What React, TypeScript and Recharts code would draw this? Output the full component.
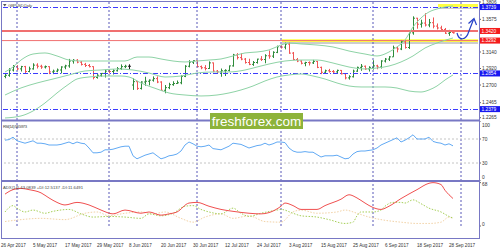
import React from 'react';
import { ComposedChart, Bar, Line, XAxis, YAxis, ReferenceLine, ReferenceArea } from 'recharts';

// GBPUSD daily, 26 Apr 2017 .. 29 Sep 2017, one entry per trading day (index 0..112)
const opens = [
  1.2815, 1.283, 1.29, 1.2945, 1.2915, 1.2945, 1.288, 1.2915, 1.2965, 1.295,
  1.294, 1.2945, 1.2875, 1.2885, 1.29, 1.294, 1.2955, 1.302, 1.303, 1.3005,
  1.2975, 1.296, 1.2945, 1.28, 1.283, 1.2855, 1.2885, 1.288, 1.289, 1.292,
  1.2945, 1.295, 1.27, 1.2745, 1.2655, 1.274, 1.275, 1.2765, 1.2785, 1.274,
  1.263, 1.2665, 1.2705, 1.272, 1.273, 1.2815, 1.295, 1.3005, 1.3025, 1.2945,
  1.293, 1.292, 1.2995, 1.2885, 1.2875, 1.289, 1.2895, 1.2955, 1.31, 1.3065,
  1.3045, 1.3, 1.2975, 1.3, 1.3045, 1.304, 1.309, 1.3085, 1.3135, 1.321,
  1.3205, 1.3245, 1.3125, 1.304, 1.302, 1.299, 1.3, 1.2995, 1.3015, 1.2935,
  1.287, 1.289, 1.288, 1.2875, 1.2895, 1.285, 1.2795, 1.281, 1.2885, 1.2935,
  1.295, 1.2915, 1.2935, 1.2955, 1.294, 1.302, 1.3045, 1.3075, 1.3195, 1.318,
  1.3275, 1.32, 1.3395, 1.359, 1.351, 1.3525, 1.35, 1.353, 1.3485, 1.346,
  1.344, 1.339, 1.34,
];
const highs = [
  1.2856, 1.2925, 1.2966, 1.2965, 1.2955, 1.2955, 1.2945, 1.299, 1.299, 1.297,
  1.296, 1.295, 1.2905, 1.292, 1.295, 1.297, 1.3048, 1.3045, 1.3045, 1.302,
  1.2995, 1.298, 1.295, 1.2845, 1.286, 1.2905, 1.2905, 1.291, 1.294, 1.2975,
  1.297, 1.2976, 1.279, 1.2755, 1.275, 1.281, 1.2775, 1.2815, 1.2815, 1.275,
  1.27, 1.273, 1.275, 1.276, 1.283, 1.2965, 1.303, 1.303, 1.303, 1.296,
  1.2965, 1.3015, 1.3, 1.29, 1.292, 1.291, 1.296, 1.3115, 1.3125, 1.3125,
  1.306, 1.305, 1.302, 1.305, 1.3085, 1.311, 1.316, 1.315, 1.3225, 1.323,
  1.3265, 1.3267, 1.314, 1.306, 1.303, 1.301, 1.3015, 1.3035, 1.302, 1.2945,
  1.2905, 1.2915, 1.29, 1.2905, 1.29, 1.2855, 1.283, 1.2905, 1.2945, 1.298,
  1.296, 1.295, 1.303, 1.297, 1.303, 1.306, 1.3085, 1.3225, 1.3215, 1.33,
  1.33, 1.341, 1.3615, 1.3595, 1.357, 1.3657, 1.358, 1.36, 1.352, 1.349,
  1.346, 1.3435, 1.3425,
];
const lows = [
  1.279, 1.281, 1.288, 1.2895, 1.288, 1.2855, 1.287, 1.2905, 1.292, 1.2915,
  1.292, 1.2845, 1.2845, 1.287, 1.2855, 1.291, 1.293, 1.2985, 1.299, 1.296,
  1.294, 1.2935, 1.2775, 1.2785, 1.281, 1.28, 1.2855, 1.284, 1.288, 1.29,
  1.2925, 1.291, 1.2635, 1.2635, 1.264, 1.269, 1.2695, 1.2745, 1.2725, 1.262,
  1.259, 1.2645, 1.269, 1.2715, 1.271, 1.2805, 1.2935, 1.298, 1.2935, 1.291,
  1.2895, 1.2915, 1.287, 1.285, 1.281, 1.282, 1.288, 1.2945, 1.304, 1.303,
  1.2985, 1.2965, 1.2955, 1.2985, 1.302, 1.299, 1.305, 1.306, 1.3125, 1.3185,
  1.3175, 1.3115, 1.303, 1.3005, 1.2975, 1.295, 1.296, 1.298, 1.2925, 1.2845,
  1.285, 1.2865, 1.286, 1.2855, 1.284, 1.2775, 1.2772, 1.28, 1.2875, 1.289,
  1.29, 1.288, 1.2905, 1.291, 1.292, 1.3, 1.302, 1.3075, 1.3135, 1.3165,
  1.3185, 1.318, 1.337, 1.345, 1.3465, 1.348, 1.347, 1.3455, 1.344, 1.341,
  1.338, 1.3355, 1.3385,
];
const closes = [
  1.283, 1.29, 1.2945, 1.2915, 1.2945, 1.288, 1.2915, 1.2965, 1.295, 1.294,
  1.2945, 1.2875, 1.2885, 1.29, 1.294, 1.2955, 1.302, 1.303, 1.3005, 1.2975,
  1.296, 1.2945, 1.28, 1.283, 1.2855, 1.2885, 1.288, 1.289, 1.292, 1.2945,
  1.295, 1.295, 1.2745, 1.2655, 1.274, 1.275, 1.2765, 1.2785, 1.274, 1.263,
  1.2665, 1.2705, 1.272, 1.273, 1.2815, 1.295, 1.3005, 1.3025, 1.2945, 1.293,
  1.292, 1.2995, 1.2885, 1.2875, 1.289, 1.2895, 1.2955, 1.31, 1.3065, 1.3045,
  1.3, 1.2975, 1.3, 1.3045, 1.304, 1.309, 1.3085, 1.3135, 1.321, 1.3205,
  1.3245, 1.3125, 1.304, 1.302, 1.299, 1.3, 1.2995, 1.3015, 1.2935, 1.287,
  1.289, 1.288, 1.2875, 1.2895, 1.285, 1.2795, 1.281, 1.2885, 1.2935, 1.295,
  1.2915, 1.2935, 1.2955, 1.294, 1.302, 1.3045, 1.3075, 1.3195, 1.318, 1.3275,
  1.32, 1.3395, 1.359, 1.351, 1.3525, 1.35, 1.353, 1.3485, 1.346, 1.344,
  1.339, 1.34, 1.3395,
];

// Bollinger bands, read at sample days
const upperIdx = [0, 2, 4, 7, 10, 13, 16, 19, 23, 27, 30, 33, 36, 39, 42, 45, 48, 51, 54, 57, 60, 63, 66, 69, 71, 74, 78, 82, 86, 90, 93, 96, 98, 100, 102, 104, 106, 108, 110, 112];
const upperVals = [1.2874, 1.294, 1.3033, 1.3113, 1.3127, 1.3087, 1.3033, 1.302, 1.302, 1.302, 1.302, 1.3073, 1.3073, 1.3047, 1.302, 1.3007, 1.302, 1.3033, 1.3047, 1.3087, 1.3127, 1.314, 1.3167, 1.3233, 1.326, 1.3247, 1.3233, 1.3207, 1.3153, 1.3113, 1.3087, 1.314, 1.3207, 1.33, 1.3473, 1.3593, 1.3673, 1.3713, 1.3739, 1.3753];
const midIdx = [0, 4, 8, 12, 16, 20, 24, 28, 32, 36, 40, 44, 48, 52, 56, 60, 63, 66, 70, 74, 78, 82, 86, 90, 93, 96, 99, 102, 105, 108, 112];
const midVals = [1.2567, 1.2661, 1.2727, 1.278, 1.2834, 1.2887, 1.29, 1.2914, 1.29, 1.286, 1.2807, 1.282, 1.286, 1.2874, 1.2874, 1.29, 1.294, 1.298, 1.302, 1.3033, 1.3033, 1.2993, 1.294, 1.2914, 1.2927, 1.2953, 1.3007, 1.3087, 1.3193, 1.326, 1.3327];
const lowerIdx = [0, 4, 7, 10, 13, 16, 18, 21, 25, 29, 31, 34, 38, 41, 45, 49, 53, 56, 59, 62, 65, 68, 71, 74, 77, 80, 83, 86, 89, 92, 95, 98, 101, 104, 106, 108, 110, 112];
const lowerVals = [1.2261, 1.2288, 1.2354, 1.2461, 1.2594, 1.2714, 1.278, 1.2807, 1.282, 1.282, 1.2807, 1.2727, 1.2647, 1.2594, 1.2567, 1.2554, 1.2567, 1.2594, 1.2634, 1.2687, 1.2754, 1.2807, 1.2834, 1.2847, 1.282, 1.278, 1.2727, 1.2687, 1.2674, 1.2674, 1.2674, 1.266, 1.262, 1.2607, 1.2634, 1.2687, 1.2767, 1.2834];

// RSI(14), one value per day
const rsi = [
  68, 69, 73, 67, 65, 63, 65, 67, 63, 63,
  62, 60, 60, 60, 61, 63, 65, 62, 65, 63,
  62, 55, 47, 47, 48, 52, 52, 53, 55, 57,
  58, 58, 42, 37, 40, 43, 45, 47, 42, 37,
  39, 42, 43, 45, 50, 60, 65, 62, 58, 57,
  58, 60, 54, 53, 52, 55, 58, 63, 62, 61,
  58, 55, 57, 59, 60, 63, 60, 62, 65, 65,
  64, 55, 50, 48, 48, 49, 48, 48, 44, 40,
  42, 42, 42, 43, 40, 37, 38, 45, 49, 50,
  50, 51, 52, 55, 60, 63, 66, 69, 72, 65,
  68, 72, 77, 70, 70, 70, 73, 66, 64, 63,
  60, 62, 58.5973,
];

// ADX(14) with +DI / -DI, read at sample days
const adxIdx = [0, 2, 4, 6, 9, 11, 13, 15, 18, 21, 24, 27, 30, 34, 36, 39, 41, 43, 46, 48, 51, 54, 57, 61, 64, 66, 69, 70, 72, 74, 78, 80, 84, 86, 88, 90, 92, 94, 96, 99, 103, 106, 107, 109, 110, 111, 112];
const adxVals = [50, 57, 59, 57, 52, 44, 37, 33, 37, 33, 25, 19, 25, 20, 22, 17, 19, 22, 36, 37, 31, 26, 23, 20, 19, 21, 31, 36, 32, 26, 26, 32, 42, 49, 44, 36, 29, 26, 31, 43, 57, 67, 68, 65, 56, 49, 43.0839];
const plusIdx = [0, 2, 3, 5, 7, 10, 12, 16, 19, 22, 26, 30, 34, 36, 39, 42, 45, 47, 49, 51, 54, 57, 59, 61, 64, 68, 69, 72, 74, 78, 81, 85, 87, 88, 89, 92, 94, 95, 97, 99, 100, 102, 104, 106, 109, 111, 112];
const plusVals = [22, 32, 28, 22, 25, 20, 23, 26, 19, 14, 15, 14, 12, 19, 16, 20, 31, 32, 26, 22, 19, 28, 20, 15, 20, 25, 26, 20, 16, 14, 10, 4, 6, 16, 22, 22, 25, 31, 37, 37, 36, 41, 35, 28, 22, 15, 12.5137];
const minusIdx = [0, 4, 9, 15, 20, 23, 26, 30, 34, 37, 40, 44, 47, 50, 54, 57, 61, 65, 69, 72, 74, 78, 83, 85, 88, 91, 94, 99, 103, 106, 109, 111, 112];
const minusVals = [7, 10, 12, 10, 20, 22, 16, 20, 22, 19, 22, 12, 6, 14, 19, 12, 16, 7, 6, 22, 25, 20, 22, 25, 20, 14, 10, 6, 4, 4, 6, 14, 11.6491];

const dateTicks = [0, 7, 15, 23, 31, 39, 47, 55, 63, 71, 79, 87, 95, 103, 111];
const dateLabels = ['26 Apr 2017', '5 May 2017', '17 May 2017', '29 May 2017', '8 Jun 2017', '20 Jun 2017', '30 Jun 2017', '12 Jul 2017', '24 Jul 2017', '3 Aug 2017', '15 Aug 2017', '25 Aug 2017', '6 Sep 2017', '18 Sep 2017', '28 Sep 2017'];
const monthStarts = [3, 26, 48, 69, 92, 114];

const priceTicks = [1.3806, 1.3575, 1.314, 1.292, 1.27, 1.2465, 1.2265];
const blueLevels = [1.3739, 1.2854, 1.2379];
const redLevels = [1.342, 1.3292];

const X_DOMAIN: [number, number] = [-0.75, 118.25];
const FRAME = '#7878c4';
const GRID = '#5858b8';
const BLUE_LEVEL = '#3c3cff';
const RED_LEVEL = '#f07070';
const BAND = '#8ed3a6';
const UP = '#2e8b3a';
const DOWN = '#f05555';
const FONT = 'Liberation Sans, Arial, sans-serif';

const bars = closes.map((c, i) => ({ i, o: opens[i], h: highs[i], l: lows[i], c, range: [lows[i], highs[i]] }));
const pts = (idx: number[], vals: number[]) => idx.map((i, k) => ({ i, v: vals[k] }));
const rsiData = rsi.map((v, i) => ({ i, v }));

const OhlcShape = (props: any) => {
  const { x, y, width, height, payload } = props;
  if (!payload || height == null) return null;
  const top = Math.min(y, y + height);
  const h = Math.abs(height);
  const span = payload.h - payload.l || 1;
  const yOpen = top + ((payload.h - payload.o) / span) * h;
  const yClose = top + ((payload.h - payload.c) / span) * h;
  const cx = Math.round(x + width / 2) + 0.5;
  const color = payload.c > payload.o ? UP : payload.c < payload.o ? DOWN : '#222';
  return (
    <g stroke={color} strokeWidth={1}>
      <line x1={cx} x2={cx} y1={top} y2={top + h} />
      <line x1={cx - 1.5} x2={cx} y1={yOpen} y2={yOpen} />
      <line x1={cx} x2={cx + 1.5} y1={yClose} y2={yClose} />
    </g>
  );
};

const PriceTick = (props: any) => {
  const { y, payload } = props;
  const v = payload.value as number;
  const blue = blueLevels.includes(v);
  const red = redLevels.includes(v);
  if (blue || red) {
    return (
      <g>
        <rect x={480} y={y - 3} width={20} height={6} fill={blue ? '#1818f0' : '#f41c1c'} />
        <text x={481.5} y={y + 1.8} fontSize={4.8} fill="#fff" fontFamily={FONT}>{v.toFixed(4)}</text>
      </g>
    );
  }
  return (
    <g>
      <line x1={479} x2={481} y1={y} y2={y} stroke="#666" />
      <text x={482} y={y + 1.7} fontSize={4.8} fill="#333" fontFamily={FONT}>{v.toFixed(4)}</text>
    </g>
  );
};

const RsiTick = (props: any) => {
  const { y, payload } = props;
  const v = payload.value as number;
  const ty = v === 100 ? y + 5.7 : v === 0 ? y - 2.3 : y + 1.7;
  return (
    <g>
      <line x1={479} x2={481} y1={y} y2={y} stroke="#666" />
      <text x={482} y={ty} fontSize={4.8} fill="#333" fontFamily={FONT}>{v}</text>
    </g>
  );
};

const AdxTick = (props: any) => {
  const { y, payload } = props;
  const v = payload.value as number;
  const ty = v === 0 ? y - 0.3 : y + 3;
  return (
    <g>
      <line x1={479} x2={481} y1={y} y2={y} stroke="#666" />
      <text x={482} y={ty} fontSize={4.8} fill="#333" fontFamily={FONT}>{v}</text>
    </g>
  );
};

const DateTick = (props: any) => {
  const { x, payload } = props;
  const k = dateTicks.indexOf(payload.value);
  return (
    <text x={k === 0 ? 1 : x} y={64.5} fontSize={4.6} fill="#333" fontFamily={FONT}>{dateLabels[k]}</text>
  );
};

const monthLines = () =>
  monthStarts.map((m) => <ReferenceLine key={`m${m}`} x={m} stroke={GRID} strokeDasharray="2 2" />);

const App: React.FC = () => {
  return (
    <div style={{ position: 'fixed', left: 0, top: 0, width: 500, height: 250, background: '#fff', fontFamily: FONT }}>
      <div style={{ position: 'absolute', left: 0, top: 0 }}>
        <ComposedChart width={500} height={122} data={bars} margin={{ top: 2, right: 0, bottom: 2, left: 2 }}>
          <XAxis type="number" dataKey="i" domain={X_DOMAIN} hide allowDataOverflow />
          <YAxis orientation="right" width={22} domain={[1.2234, 1.3806]} allowDataOverflow
            ticks={[...priceTicks, ...blueLevels, ...redLevels]} interval={0}
            tick={<PriceTick />} axisLine={false} tickLine={false} />
          {monthLines()}
          {blueLevels.map((v) => (
            <ReferenceLine key={`b${v}`} y={v} stroke={BLUE_LEVEL} strokeDasharray="5 2 1 2" shapeRendering="crispEdges" />
          ))}
          <ReferenceLine y={redLevels[0]} stroke={RED_LEVEL} strokeWidth={2} />
          <ReferenceLine y={redLevels[1]} stroke={RED_LEVEL} strokeWidth={1} />
          <ReferenceArea x1={69.25} x2={118.25} y1={1.3247} y2={1.3273} fill="#b8b8b8" fillOpacity={0.7} stroke="none" />
          <ReferenceArea x1={69.25} x2={118.25} y1={1.3273} y2={1.3311} fill="#ffff22" fillOpacity={0.85} stroke="none" />
          <ReferenceArea x1={108.25} x2={118.25} y1={1.3713} y2={1.3733} fill="#b8b8b8" fillOpacity={0.7} stroke="none" />
          <ReferenceArea x1={108.25} x2={118.25} y1={1.3739} y2={1.3779} fill="#ffff22" fillOpacity={0.85} stroke="none" />
          <Line data={pts(upperIdx, upperVals)} dataKey="v" type="monotone" stroke={BAND} strokeWidth={1} dot={false} activeDot={false} isAnimationActive={false} />
          <Line data={pts(midIdx, midVals)} dataKey="v" type="monotone" stroke={BAND} strokeWidth={1} dot={false} activeDot={false} isAnimationActive={false} />
          <Line data={pts(lowerIdx, lowerVals)} dataKey="v" type="monotone" stroke={BAND} strokeWidth={1} dot={false} activeDot={false} isAnimationActive={false} />
          <Bar dataKey="range" barSize={3} shape={(p: any) => <OhlcShape {...p} />} isAnimationActive={false} />
        </ComposedChart>
      </div>
      <div style={{ position: 'absolute', left: 0, top: 121 }}>
        <ComposedChart width={500} height={60} data={rsiData} margin={{ top: 0, right: 0, bottom: 0, left: 2 }}>
          <XAxis type="number" dataKey="i" domain={X_DOMAIN} hide allowDataOverflow />
          <YAxis orientation="right" width={22} domain={[0, 100]} allowDataOverflow ticks={[0, 30, 70, 100]}
            interval={0} tick={<RsiTick />} axisLine={false} tickLine={false} />
          {monthLines()}
          <ReferenceLine y={70} stroke="#c4c4c4" strokeDasharray="2 2" />
          <ReferenceLine y={30} stroke="#c4c4c4" strokeDasharray="2 2" />
          <Line dataKey="v" type="linear" stroke="#62aaf4" strokeWidth={1} dot={false} activeDot={false} isAnimationActive={false} />
        </ComposedChart>
      </div>
      <div style={{ position: 'absolute', left: 0, top: 182 }}>
        <ComposedChart width={500} height={68} data={pts(adxIdx, adxVals)} margin={{ top: 0, right: 0, bottom: 12, left: 2 }}>
          <XAxis type="number" dataKey="i" domain={X_DOMAIN} allowDataOverflow ticks={dateTicks} interval={0}
            height={12} tick={<DateTick />} axisLine={false} tickLine={false} />
          <YAxis orientation="right" width={22} domain={[0, 69]} allowDataOverflow ticks={[0, 68]}
            interval={0} tick={<AdxTick />} axisLine={false} tickLine={false} />
          {monthLines()}
          <Line data={pts(minusIdx, minusVals)} dataKey="v" type="monotone" stroke="#f2d2a6" strokeWidth={1} strokeDasharray="1.5 1.5" dot={false} activeDot={false} isAnimationActive={false} />
          <Line data={pts(plusIdx, plusVals)} dataKey="v" type="monotone" stroke="#a6cf58" strokeWidth={1} strokeDasharray="1.5 1.5" dot={false} activeDot={false} isAnimationActive={false} />
          <Line dataKey="v" type="monotone" stroke="#f05050" strokeWidth={1} dot={false} activeDot={false} isAnimationActive={false} />
        </ComposedChart>
      </div>
      <svg width={500} height={250} style={{ position: 'absolute', left: 0, top: 0, pointerEvents: 'none' }}>
        <line x1={1.5} y1={1} x2={1.5} y2={239} stroke={FRAME} />
        <line x1={1} y1={1.5} x2={480} y2={1.5} stroke={FRAME} />
        <line x1={479.5} y1={1} x2={479.5} y2={239} stroke={FRAME} />
        <rect x={1} y={119.5} width={479} height={2} fill={FRAME} />
        <rect x={1} y={180} width={479} height={2} fill={FRAME} />
        <line x1={1} y1={238.5} x2={480} y2={238.5} stroke={FRAME} />
        <path d="M3,4 L6.5,4 L4.75,6.5 Z" fill="#555" />
        <text x={8} y={7} fontSize={4.2} fill="#555" textLength={24} fontFamily={FONT}>GBPUSD,Daily</text>
        <text x={3} y={127.5} fontSize={4.2} fill="#444" textLength={24} fontFamily={FONT}>RSI(14) 58.5973</text>
        <text x={3} y={188.5} fontSize={4.2} fill="#444" textLength={80} fontFamily={FONT}>ADX(14) 43.0839 +DI:12.5137 -DI:11.6491</text>
        <path d="M457,33 C459,41 466,41 469,31 L473.5,19.5" fill="none" stroke="#2440c8" strokeWidth={1.2} />
        <path d="M468.5,23.5 L474,18.5 L476.5,25" fill="none" stroke="#2440c8" strokeWidth={1.2} />
        <rect x={210} y={113} width={93} height={16} fill="#8db33a" />
        <text x={256.5} y={126} textAnchor="middle" fontSize={13.5} fill="#fff" fontFamily={FONT}>freshforex.com</text>
      </svg>
    </div>
  );
};

export default App;
